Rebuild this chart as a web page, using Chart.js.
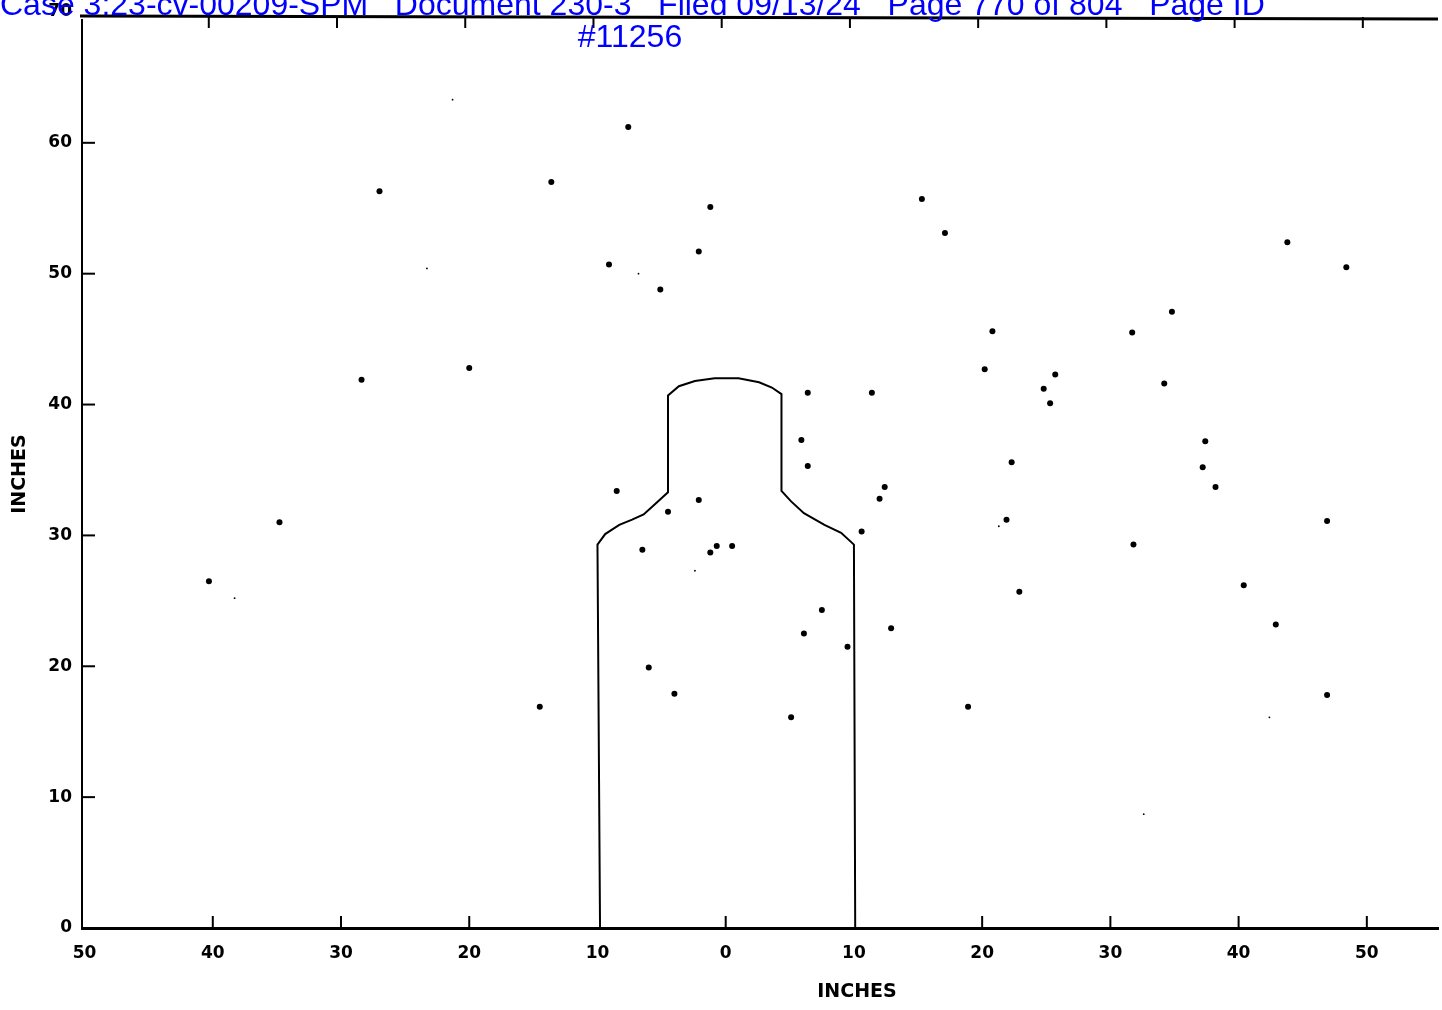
<!DOCTYPE html>
<html>
<head>
<meta charset="utf-8">
<script src="https://cdn.jsdelivr.net/npm/chart.js@4.4.1/dist/chart.umd.min.js"></script>
<style>
html,body{margin:0;padding:0;background:#fff;}
#wrap{position:relative;width:1442px;height:1010px;overflow:hidden;background:#fff;}
#c{position:absolute;left:0;top:0;}
#hdr{position:absolute;left:0;top:-12px;width:1260px;text-align:center;font:32px/32px "Liberation Sans",Arial,sans-serif;color:#0000ff;white-space:pre;}
</style>
</head>
<body>
<div id="wrap">
<canvas id="c" width="1442" height="1010"></canvas>
<div id="hdr">Case 3:23-cv-00209-SPM   Document 230-3   Filed 09/13/24   Page 770 of 804   Page ID
#11256</div>
</div>
<script>
// ---- Data (inches) ----
const shotX = [-40.3,-34.8,-28.4,-27.0,-20.0,-14.5,-13.6,-9.1,-7.6,-8.5,-6.5,-6.0,-5.1,-4.5,-4.0,-2.1,-2.1,-1.2,-1.2,-0.7,0.5,
  5.1,5.9,6.1,6.4,6.4,7.5,9.5,10.6,11.4,12.0,12.4,12.9,15.3,17.1,18.9,20.2,20.8,21.9,22.3,22.9,24.8,25.3,25.7,
  31.7,31.8,34.2,34.8,37.2,37.4,38.2,40.4,42.9,43.8,46.9,46.9,48.4];
const shotY = [26.5,31.0,41.9,56.3,42.8,16.9,57.0,50.7,61.2,33.4,28.9,19.9,48.8,31.8,17.9,51.7,32.7,55.1,28.7,29.2,29.2,
  16.1,37.3,22.5,40.9,35.3,24.3,21.5,30.3,40.9,32.8,33.7,22.9,55.7,53.1,16.9,42.7,45.6,31.2,35.6,25.7,41.2,40.1,42.3,
  45.5,29.3,41.6,47.1,35.2,37.2,33.7,26.2,23.2,52.4,31.1,17.8,50.5];
const speckX = [-38.3,-21.3,-23.3,-6.8,-2.4,21.3,32.6,42.4];
const speckY = [25.2,63.3,50.4,50.0,27.3,30.7,8.7,16.1];
// target silhouette outline
const outlineX = [-9.8,-10.0,-9.4,-8.3,-7.3,-6.4,-5.5,-4.5,-4.5,-3.65,-2.4,-0.86,1.0,2.6,3.6,4.35,4.35,5.1,6.1,7.7,9.0,10.0,10.1];
const outlineY = [0,29.3,30.1,30.8,31.2,31.6,32.4,33.3,40.7,41.4,41.8,42.0,42.0,41.7,41.3,40.8,33.4,32.6,31.7,30.8,30.2,29.3,0];
// ticks / labels
const xTickValues = [-50,-40,-30,-20,-10,0,10,20,30,40,50];
const yTickValues = [0,10,20,30,40,50,60,70];
const xAxisTitle = 'INCHES';
const yAxisTitle = 'INCHES';

const tickFont = {family:'DejaVu Sans', weight:'bold', size:17};
const titleFont = {family:'DejaVu Sans', weight:'bold', size:19};

const framePlugin = {
  id:'frame',
  afterDraw(chart){
    const c = chart.ctx, xs = chart.scales.x, ys = chart.scales.y, a = chart.chartArea;
    c.save();
    c.strokeStyle = '#000';
    // top frame line
    c.lineWidth = 3;
    c.beginPath(); c.moveTo(a.left - 2, 16); c.lineTo(a.right, 19); c.stroke();
    c.lineWidth = 2;
    // top ticks (pointing down)
    xTickValues.filter(v => v > -50).forEach(v => {
      const px = xs.getPixelForValue(v) - 4;
      c.beginPath(); c.moveTo(px, 17); c.lineTo(px, 28); c.stroke();
    });
    // bottom ticks (pointing up)
    xTickValues.filter(v => v > -50 && Math.abs(v) !== 10).forEach(v => {
      const px = xs.getPixelForValue(v);
      c.beginPath(); c.moveTo(px, a.bottom); c.lineTo(px, a.bottom - 12); c.stroke();
    });
    // left ticks (pointing right)
    yTickValues.filter(v => v > 0 && v < 69).forEach(v => {
      const py = ys.getPixelForValue(v);
      c.beginPath(); c.moveTo(a.left, py); c.lineTo(a.left + 13, py); c.stroke();
    });
    // x axis title
    c.fillStyle = '#000';
    c.font = 'bold 19px "DejaVu Sans"';
    c.textAlign = 'center'; c.textBaseline = 'middle';
    c.fillText(xAxisTitle, 857, 992);
    c.restore();
  }
};

new Chart(document.getElementById('c'), {
  type:'scatter',
  data:{datasets:[
    {label:'Silhouette', data: outlineX.map((x,i)=>({x:x, y:outlineY[i]})), showLine:true,
     borderColor:'#000', borderWidth:2, pointRadius:0, fill:false, tension:0},
    {label:'Shots', data: shotX.map((x,i)=>({x:x, y:shotY[i]})),
     backgroundColor:'#000', borderColor:'#000', pointRadius:3, pointBorderWidth:0},
    {label:'Specks', data: speckX.map((x,i)=>({x:x, y:speckY[i]})),
     backgroundColor:'#000', borderColor:'#000', pointRadius:0.9, pointBorderWidth:0}
  ]},
  options:{
    responsive:false, animation:false, events:[],
    layout:{padding:{top:9,left:0,right:0,bottom:0}},
    plugins:{legend:{display:false}, tooltip:{enabled:false}},
    scales:{
      x:{type:'linear', position:'bottom', min:-50.2, max:55.55,
        afterBuildTicks:s=>{s.ticks = xTickValues.map(v=>({value:v}));},
        afterFit:s=>{s.height = 82;},
        grid:{display:false, drawTicks:false},
        border:{display:true, color:'#000', width:3},
        ticks:{padding:15, color:'#000', font:tickFont, maxRotation:0, autoSkip:false,
          callback:v=>String(Math.abs(v))}
      },
      y:{type:'linear', position:'left', min:0, max:69.37,
        afterBuildTicks:s=>{s.ticks = yTickValues.map(v=>({value:v}));},
        afterFit:s=>{s.width = 82;},
        grid:{display:false, drawTicks:false},
        border:{display:true, color:'#000', width:2},
        ticks:{padding:10, color:'#000', font:tickFont, autoSkip:false},
        title:{display:true, text:yAxisTitle, color:'#000', font:titleFont, padding:{top:9,bottom:0}}
      }
    }
  },
  plugins:[framePlugin]
});
</script>
</body>
</html>
